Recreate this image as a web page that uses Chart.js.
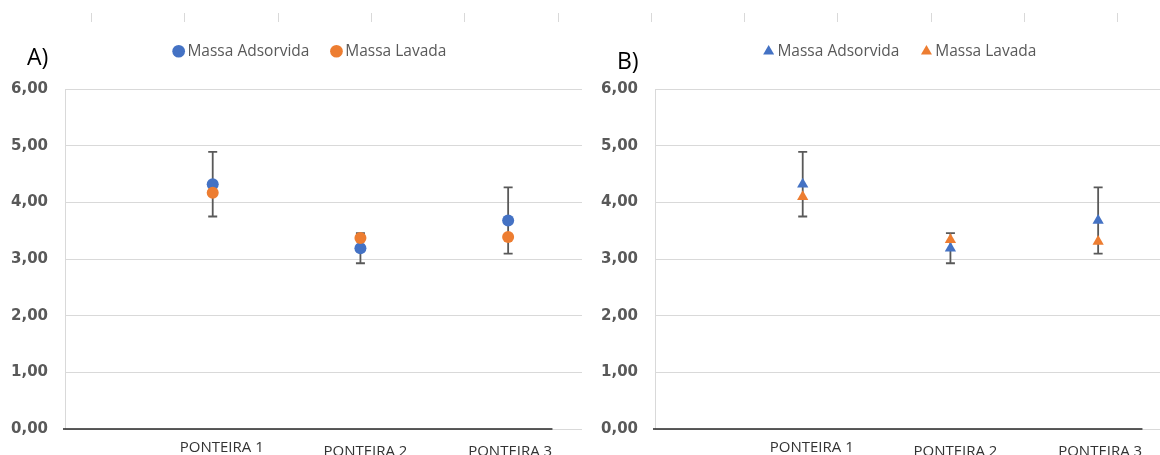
<!DOCTYPE html>
<html>
<head>
<meta charset="utf-8">
<title>Massa Adsorvida x Massa Lavada</title>
<script src="https://cdn.jsdelivr.net/npm/chart.js@4.4.1/dist/chart.umd.min.js"></script>
<style>
  html, body { margin: 0; padding: 0; background: #fff; overflow: hidden; }
  #wrap { position: relative; width: 1160px; height: 455px; overflow: hidden; }
  .panel { position: absolute; top: 0; width: 590px; height: 455px; }
  .panel canvas { display: block; }
  .tag { position: absolute; font-family: 'Open Sans', sans-serif; font-size: 23px; color: #000; line-height: 1; }
  .tick { position: absolute; top: 13px; width: 1px; height: 9px; background: #d9d9d9; }
</style>
</head>
<body>
<div id="wrap">
  <div class="panel" style="left:0"><canvas id="chartA" width="590" height="455"></canvas></div>
  <div class="panel" style="left:590px"><canvas id="chartB" width="590" height="455"></canvas></div>
  <div class="tag" style="left:27px; top:45px">A)</div>
  <div class="tag" style="left:617px; top:49px">B)</div>
</div>
<script>
// Categories and series
const categories = ['PONTEIRA 1', 'PONTEIRA 2', 'PONTEIRA 3'];
const positions = [1, 2, 3];
const yTickLabels = ['0,00', '1,00', '2,00', '3,00', '4,00', '5,00', '6,00'];

const massaAdsorvida = [4.32, 3.19, 3.68];
const erroAdsorvida = [0.57, 0.265, 0.585];
const massaLavadaA = [4.17, 3.37, 3.39];
const massaLavadaB = [4.10, 3.34, 3.31];

const BLUE = '#4472c4';
const ORANGE = '#ed7d31';
const GREY_TEXT = '#595959';

// short tick marks along the top edge
const wrap = document.getElementById('wrap');
for (let i = 0; i < 12; i++) {
  const t = document.createElement('div');
  t.className = 'tick';
  t.style.left = Math.round(91 + i * 93.3) + 'px';
  wrap.appendChild(t);
}

// error bars on the first dataset, plus dark baseline at y = 0
const errorBars = {
  id: 'errorBars',
  beforeDatasetsDraw(chart, args, opts) {
    const ctx = chart.ctx;
    const xs = chart.scales.x, ys = chart.scales.y;
    const meta = chart.getDatasetMeta(0);
    const values = chart.data.datasets[0].data;

    ctx.save();
    // baseline
    ctx.strokeStyle = '#262626';
    ctx.lineWidth = 1.5;
    const y0 = ys.getPixelForValue(0);
    ctx.beginPath();
    ctx.moveTo(xs.getPixelForValue(0) - 2, y0);
    ctx.lineTo(xs.getPixelForValue(opts.baselineEnd), y0);
    ctx.stroke();

    ctx.strokeStyle = GREY_TEXT;
    ctx.lineWidth = 1.8;
    meta.data.forEach((pt, i) => {
      const v = values[i].y, e = opts.errors[i];
      const top = ys.getPixelForValue(v + e);
      const bot = ys.getPixelForValue(v - e);
      ctx.beginPath();
      ctx.moveTo(pt.x, top); ctx.lineTo(pt.x, bot);
      ctx.moveTo(pt.x - 4.5, top); ctx.lineTo(pt.x + 4.5, top);
      ctx.moveTo(pt.x - 4.5, bot); ctx.lineTo(pt.x + 4.5, bot);
      ctx.stroke();
    });
    ctx.restore();
  }
};

// category names under the axis
const categoryLabels = {
  id: 'categoryLabels',
  afterDraw(chart, args, opts) {
    const ctx = chart.ctx;
    const xs = chart.scales.x;
    const base = chart.chartArea.bottom;
    ctx.save();
    ctx.font = '15px "Open Sans"';
    ctx.fillStyle = '#333333';
    ctx.textAlign = 'center';
    ctx.textBaseline = 'middle';
    categories.forEach((name, i) => {
      const s = opts.shift[i];
      ctx.fillText(name, xs.getPixelForValue(positions[i]) + s[0], base + s[1]);
    });
    ctx.restore();
  }
};

// fixed legend box height and horizontal span
const legendBox = {
  id: 'legendBox',
  beforeInit(chart) {
    const legend = chart.legend;
    const fit = legend.fit;
    legend.fit = function () {
      fit.call(this);
      this.height = 71.5;
    };
  },
  afterLayout(chart) {
    chart.legend.left = 42;
  }
};

function toPoints(values) {
  return values.map((v, i) => ({ x: positions[i], y: v }));
}

function buildChart(id, lavada, style) {
  return new Chart(document.getElementById(id), {
    type: 'scatter',
    data: {
      datasets: [
        {
          label: 'Massa Adsorvida',
          data: toPoints(massaAdsorvida),
          backgroundColor: BLUE,
          borderColor: BLUE,
          pointStyle: style,
          pointRadius: style === 'triangle' ? 6.5 : 6,
          pointBorderWidth: 0,
          order: 2
        },
        {
          label: 'Massa Lavada',
          data: toPoints(lavada),
          backgroundColor: ORANGE,
          borderColor: ORANGE,
          pointStyle: style,
          pointRadius: style === 'triangle' ? 6.5 : 6,
          pointBorderWidth: 0,
          order: 1
        }
      ]
    },
    options: {
      responsive: false,
      animation: false,
      layout: { padding: { left: 0, right: 8, top: 17.5, bottom: 0 } },
      scales: {
        x: {
          type: 'linear',
          min: 0,
          max: 3.5,
          grid: { display: false },
          border: { display: false },
          ticks: { display: false },
          afterFit(scale) { scale.height = 26; }
        },
        y: {
          min: 0,
          max: 6,
          ticks: {
            stepSize: 1,
            padding: 17,
            color: GREY_TEXT,
            font: { family: 'DejaVu Sans', size: 15, weight: 'bold' },
            callback: (v, i) => yTickLabels[i]
          },
          grid: { color: '#d9d9d9', lineWidth: 1, drawTicks: false },
          border: { display: true, color: '#d9d9d9', width: 1 },
          afterFit(scale) { scale.width = 65; }
        }
      },
      plugins: {
        legend: {
          position: 'top',
          labels: {
            usePointStyle: true,
            boxWidth: 2,
            boxHeight: 9,
            padding: 26,
            color: GREY_TEXT,
            font: { family: 'Open Sans', size: 15.5 },
            sort: (a, b) => a.datasetIndex - b.datasetIndex
          }
        },
        tooltip: { enabled: false },
        errorBars: { errors: erroAdsorvida, baselineEnd: 3.3 },
        categoryLabels: { shift: [[9, 19], [5, 23], [2, 23]] }
      }
    },
    plugins: [legendBox, errorBars, categoryLabels]
  });
}

Promise.all([
  document.fonts.load('15px "Open Sans"'),
  document.fonts.load('bold 15px "DejaVu Sans"')
]).then(() => {
  buildChart('chartA', massaLavadaA, 'circle');
  buildChart('chartB', massaLavadaB, 'triangle');
});
</script>
</body>
</html>
